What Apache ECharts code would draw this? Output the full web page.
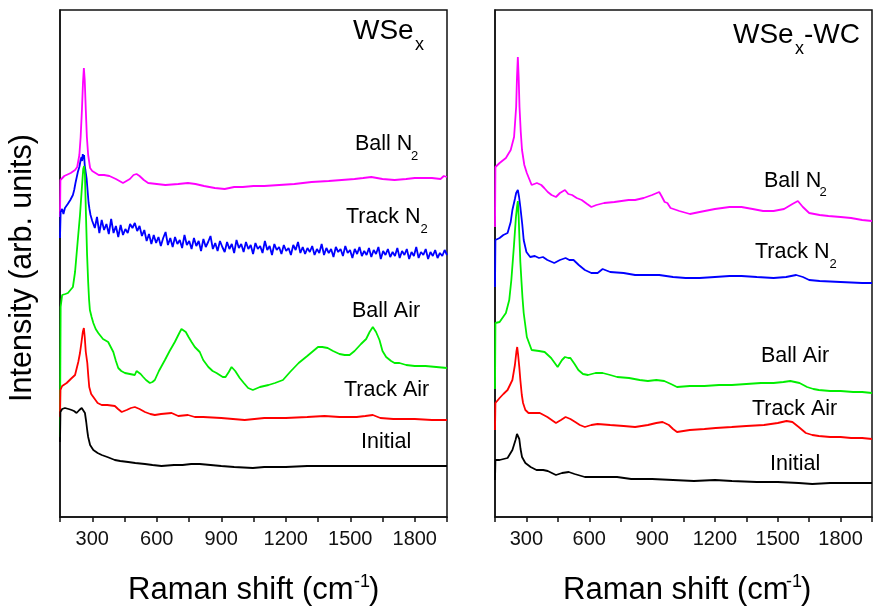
<!DOCTYPE html>
<html>
<head>
<meta charset="utf-8">
<script src="https://cdn.jsdelivr.net/npm/echarts@6/dist/echarts.min.js"></script>
<style>
html,body{margin:0;padding:0;background:#fff;}
#chart{width:875px;height:606px;}
</style>
</head>
<body>
<div id="chart"></div>
<script>
// ---------- DATA (Raman shift in cm^-1, intensity in arb. units, offset stacked) ----------
const xTickLabels = [300, 600, 900, 1200, 1500, 1800];
const seriesNames = ['Ball N2', 'Track N2', 'Ball Air', 'Track Air', 'Initial'];
const seriesColors = ['#ff00ff', '#0000ff', '#00ee00', '#ff0000', '#000000'];

// Left panel: WSex
const wsexBallN2 = [[150,300],[152,337],[170,341],[200,344],[220,347],[230,350],[240,362],[246,380],[252,407],[257,435],[261,449],[265,437],[270,407],[275,380],[281,362],[290,349],[300,346],[330,342],[355,342],[380,341],[410,338],[443,334],[475,338],[492,342],[506,343],[520,341],[540,337],[560,334],[600,333],[640,332],[700,333],[745,334],[780,333],[820,331],[870,329],[916,328],[960,330],[1000,330],[1050,331],[1100,331],[1170,332],[1240,333],[1320,335],[1400,336],[1460,337],[1520,338],[1560,339],[1598,340],[1650,338],[1706,337],[1760,338],[1800,339],[1880,339],[1920,338],[1935,341],[1950,340]];
const wsexTrackN2 = [[150,279],[153,305],[160,308],[166,303],[173,309],[180,307],[186,313],[192,311],[198,317],[204,316],[210,322],[216,327],[222,334],[227,339],[233,345],[240,350],[246,357],[250,360],[253,356],[256,363],[259,358],[262,362],[265,352],[268,347],[271,345],[274,338],[277,330],[280,322],[283,314],[287,308],[292,302],[296,304],[300,296],[312,289],[322,300],[333,284],[344,297],[355,287],[366,293],[377,283],[388,298],[399,284],[410,291],[421,280],[432,292],[443,282],[454,288],[465,284],[476,293],[487,289],[498,294],[509,286],[520,291],[531,281],[542,287],[553,276],[564,283],[575,273],[586,282],[597,274],[608,280],[619,271],[630,279],[641,285],[652,272],[663,279],[674,270],[685,280],[696,273],[707,277],[718,269],[729,282],[740,272],[751,276],[762,268],[773,279],[784,271],[795,276],[806,266],[817,278],[828,270],[839,275],[850,281],[861,268],[872,274],[883,266],[894,276],[905,270],[916,265],[927,275],[938,268],[949,273],[960,264],[971,277],[982,269],[993,273],[1004,265],[1015,275],[1026,268],[1037,272],[1048,263],[1059,274],[1070,268],[1081,271],[1092,264],[1103,276],[1114,267],[1125,271],[1136,262],[1147,273],[1158,267],[1169,270],[1180,263],[1191,272],[1202,266],[1213,269],[1224,262],[1235,272],[1246,267],[1257,275],[1268,264],[1279,270],[1290,263],[1301,269],[1312,265],[1323,271],[1334,262],[1345,268],[1356,264],[1367,273],[1378,262],[1389,269],[1400,264],[1411,268],[1422,260],[1433,270],[1444,265],[1455,268],[1466,261],[1477,271],[1488,264],[1499,267],[1510,259],[1521,268],[1532,263],[1543,270],[1554,261],[1565,266],[1576,262],[1587,269],[1598,260],[1609,267],[1620,263],[1631,270],[1642,258],[1653,266],[1664,262],[1675,268],[1686,260],[1697,265],[1708,261],[1719,269],[1730,259],[1741,266],[1752,262],[1763,268],[1774,258],[1785,265],[1796,261],[1807,270],[1818,259],[1829,265],[1840,262],[1851,268],[1862,258],[1873,265],[1884,261],[1895,267],[1906,259],[1917,264],[1928,261],[1939,267],[1950,262]];
const wsexBallAir = [[150,80],[153,210],[160,222],[175,223],[187,224],[196,225],[210,230],[220,245],[232,275],[243,302],[252,330],[258,348],[262,351],[266,342],[271,300],[276,262],[281,235],[285,218],[289,207],[297,200],[305,194],[316,188],[328,184],[350,178],[374,175],[386,170],[398,165],[410,156],[421,149],[435,146],[452,144],[475,143],[498,142],[506,146],[514,147],[525,143],[537,140],[550,137],[568,134],[580,135],[591,137],[610,146],[638,157],[660,166],[684,175],[705,184],[715,188],[723,189],[735,185],[748,180],[762,175],[777,170],[800,165],[816,157],[840,150],[860,146],[878,144],[907,140],[920,140],[935,145],[948,150],[955,152],[965,146],[986,139],[1005,134],[1025,129],[1047,127],[1080,130],[1120,132],[1150,134],[1187,137],[1220,145],[1260,154],[1300,161],[1350,170],[1370,170],[1395,169],[1420,166],[1450,163],[1474,162],[1497,162],[1520,166],[1550,173],[1574,178],[1590,185],[1605,190],[1620,185],[1636,177],[1650,166],[1667,160],[1690,156],[1706,154],[1729,154],[1760,152],[1800,151],[1850,151],[1900,150],[1950,149]];
const wsexTrackAir = [[150,100],[152,127],[160,131],[181,134],[200,138],[220,142],[235,155],[243,164],[250,175],[256,185],[261,189],[265,180],[270,165],[277,154],[282,140],[286,130],[295,123],[305,120],[325,114],[344,112],[370,112],[405,111],[420,108],[437,105],[460,107],[480,109],[498,110],[520,108],[545,105],[570,103],[591,102],[620,103],[669,104],[700,101],[745,102],[777,100],[816,100],[900,99],[1009,97],[1100,99],[1200,99],[1300,100],[1380,101],[1450,100],[1530,100],[1570,101],[1605,102],[1640,99],[1700,98],[1800,98],[1880,97],[1950,97]];
const wsexInitial = [[150,75],[152,105],[160,108],[173,109],[190,108],[204,107],[215,106],[227,104],[240,107],[251,109],[258,108],[266,104],[272,95],[277,86],[281,80],[290,72],[305,67],[325,64],[344,62],[370,60],[405,57],[430,56],[467,55],[500,54],[545,53],[580,52],[622,51],[680,52],[720,52],[760,53],[800,53],[850,52],[900,51],[960,50],[1047,49],[1100,50],[1200,50],[1300,51],[1400,51],[1500,51],[1600,51],[1700,51],[1800,51],[1900,51],[1950,51]];

// Right panel: WSex-WC
const wcBallN2 = [[150,290],[152,350],[172,354],[202,359],[225,367],[241,380],[251,410],[255,440],[259,460],[263,440],[267,410],[273,385],[279,367],[290,352],[302,344],[325,332],[350,334],[371,332],[385,329],[402,325],[420,322],[441,320],[460,324],[484,327],[500,323],[518,322],[540,319],[564,317],[590,313],[610,310],[634,312],[671,314],[720,315],[788,317],[819,317],[860,319],[900,322],[934,325],[945,321],[960,315],[973,314],[988,309],[1030,306],[1081,303],[1127,305],[1200,308],[1270,310],[1327,310],[1380,308],[1430,306],[1480,306],[1530,308],[1570,313],[1596,316],[1620,310],[1650,304],[1700,302],[1742,301],[1800,300],[1850,299],[1903,297],[1950,296]];
const wcTrackN2 = [[150,230],[152,277],[172,279],[190,282],[210,284],[225,295],[233,307],[245,318],[251,324],[259,327],[265,320],[271,310],[280,293],[287,277],[300,265],[318,260],[340,261],[360,259],[379,260],[400,257],[433,254],[460,257],[487,259],[505,257],[525,257],[550,252],[579,247],[610,244],[640,244],[664,248],[700,245],[764,244],[819,242],[870,242],[934,242],[1000,240],[1060,239],[1127,239],[1200,240],[1270,241],[1327,241],[1400,240],[1480,239],[1540,240],[1588,242],[1620,240],[1650,237],[1700,236],[1800,235],[1903,234],[1950,234]];
const wcBallAir = [[150,128],[152,194],[172,195],[202,204],[218,217],[228,237],[240,270],[250,300],[255,310],[259,316],[263,300],[267,277],[271,255],[276,237],[281,220],[287,204],[302,180],[325,167],[360,166],[387,165],[418,159],[449,150],[470,157],[484,160],[500,159],[510,159],[530,153],[548,147],[570,143],[594,142],[630,144],[664,144],[700,142],[733,140],[790,139],[841,137],[880,136],[920,137],[958,136],[990,133],[1019,130],[1080,131],[1150,131],[1220,132],[1281,132],[1350,133],[1420,134],[1480,134],[1527,135],[1560,136],[1604,134],[1640,130],[1670,128],[1696,127],[1750,126],[1800,126],[1860,125],[1903,125],[1950,124]];
const wcTrackAir = [[150,87],[152,114],[172,119],[190,123],[210,127],[233,137],[245,152],[252,165],[256,170],[260,163],[266,150],[271,137],[278,122],[284,114],[295,107],[310,104],[340,104],[364,104],[400,100],[441,94],[465,97],[487,100],[510,98],[533,95],[555,92],[579,90],[610,92],[640,93],[700,92],[764,91],[819,90],[880,92],[920,94],[950,95],[980,92],[1000,88],[1019,85],[1080,87],[1150,88],[1204,89],[1280,90],[1350,91],[1434,92],[1500,94],[1542,96],[1570,95],[1600,90],[1634,84],[1665,82],[1696,81],[1750,80],[1800,80],[1850,79],[1903,79],[1950,78]];
const wcInitial = [[150,37],[152,57],[172,57],[210,59],[233,67],[248,77],[255,83],[261,85],[266,78],[272,68],[279,60],[295,54],[320,50],[348,47],[380,47],[402,46],[441,42],[470,44],[502,45],[530,43],[579,40],[640,40],[700,40],[733,40],[800,38],[848,38],[900,38],[1000,37],[1100,36],[1200,37],[1281,36],[1400,35],[1500,35],[1600,34],[1665,33],[1750,34],[1850,34],[1903,34],[1950,34]];

const leftData = [wsexBallN2, wsexTrackN2, wsexBallAir, wsexTrackAir, wsexInitial];
const rightData = [wcBallN2, wcTrackN2, wcBallAir, wcTrackAir, wcInitial];

// ---------- CHART ----------
const FONT = '"Liberation Sans", Arial, Helvetica, sans-serif';
const chart = echarts.init(document.getElementById('chart'), null, {renderer: 'canvas'});

function xAxisCfg(gi) {
  return {
    type: 'value', gridIndex: gi, min: 150, max: 1950, interval: 150,
    axisLine: {show: true, lineStyle: {color: '#111', width: 1.5}},
    axisTick: {show: true, inside: false, length: 5, lineStyle: {color: '#111', width: 1.5}},
    axisLabel: {
      show: true, margin: 12, fontSize: 20, color: '#111', fontFamily: FONT,
      formatter: v => (xTickLabels.indexOf(v) >= 0 ? String(v) : '')
    },
    splitLine: {show: false}
  };
}
function yAxisCfg(gi) {
  return {
    type: 'value', gridIndex: gi, min: 0, max: 507,
    axisLine: {show: true, lineStyle: {color: '#111', width: 1.5}},
    axisTick: {show: false}, axisLabel: {show: false}, splitLine: {show: false}
  };
}

const series = [];
[leftData, rightData].forEach((set, gi) => {
  set.forEach((d, i) => {
    series.push({
      name: seriesNames[i] + (gi ? ' (WSex-WC)' : ' (WSex)'),
      type: 'line', xAxisIndex: gi, yAxisIndex: gi,
      data: d, showSymbol: false, symbol: 'none',
      lineStyle: {color: seriesColors[i], width: 1.8},
      itemStyle: {color: seriesColors[i]},
      animation: false, silent: true
    });
  });
});

function T(x, y, text, fs, extra) {
  const st = Object.assign({
    text: text, fontSize: fs, fontFamily: FONT, fill: '#000',
    textAlign: 'left', textVerticalAlign: 'middle', align: 'left', verticalAlign: 'middle'
  }, extra || {});
  return {type: 'text', x: x, y: y, style: st, silent: true, z: 100};
}

const graphics = [
  // panel titles
  T(353, 31, 'WSe', 28), T(415, 45, 'x', 18),
  T(733, 35, 'WSe', 28), T(795, 49.5, 'x', 18), T(804, 35, '-WC', 28),
  // left curve labels
  T(355, 144, 'Ball N', 21.5), T(411, 156, '2', 13),
  T(346, 217.5, 'Track N', 21.5), T(420.5, 229, '2', 13),
  T(352, 311, 'Ball Air', 21.5),
  T(344, 390, 'Track Air', 21.5),
  T(361, 442.5, 'Initial', 21.5),
  // right curve labels
  T(764, 181, 'Ball N', 21.5), T(819.5, 192.5, '2', 13),
  T(755, 252.5, 'Track N', 21.5), T(829.5, 264.7, '2', 13),
  T(761, 356, 'Ball Air', 21.5),
  T(752, 409, 'Track Air', 21.5),
  T(770, 464, 'Initial', 21.5),
  // x axis titles
  T(128, 590, 'Raman shift (cm', 31), T(354, 582, '-1', 18), T(369, 590, ')', 31),
  T(563, 590, 'Raman shift (cm', 31), T(786, 582, '-1', 18), T(801, 590, ')', 31),
  // y axis title
  Object.assign(T(23, 268, 'Intensity (arb. units)', 30.5, {textAlign: 'center', align: 'center'}), {rotation: Math.PI / 2})
];

chart.setOption({
  animation: false,
  backgroundColor: '#fff',
  grid: [
    {left: 60, top: 10, width: 387, height: 507, show: true, borderColor: '#111', borderWidth: 1.5, backgroundColor: 'transparent', containLabel: false},
    {left: 495, top: 10, width: 390, height: 507, show: true, borderColor: '#111', borderWidth: 1.5, backgroundColor: 'transparent', containLabel: false}
  ],
  xAxis: [xAxisCfg(0), xAxisCfg(1)],
  yAxis: [yAxisCfg(0), yAxisCfg(1)],
  series: series,
  graphic: graphics
});
</script>
</body>
</html>
